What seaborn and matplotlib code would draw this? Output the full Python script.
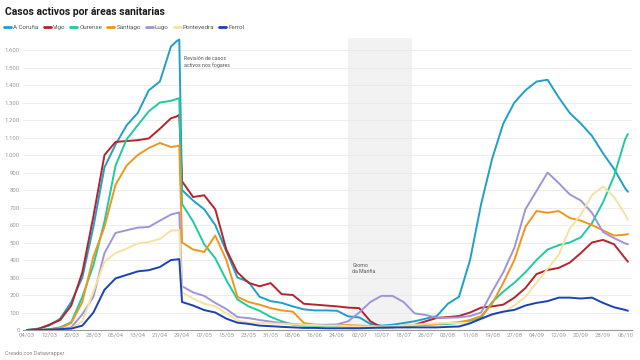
import pandas as pd
import matplotlib.pyplot as plt
import matplotlib.dates as mdates
from matplotlib.lines import Line2D
import seaborn as sns

# days counted from 04/03/2020
days = [0, 4, 8, 12, 16, 20, 24, 28, 32, 36, 40, 44, 48, 52,
        54, 55, 56,
        60, 64, 68, 72, 76, 80, 84, 88, 92, 96,
        100, 104, 108, 112, 116, 120, 124, 128, 132, 136,
        140, 144, 148, 152, 156, 160, 164, 168, 172, 176,
        180, 184, 188, 192, 196, 200, 204, 208, 212, 216,
        217]

a_coruna = [0, 8, 25, 65, 160, 300, 590, 930, 1060, 1170, 1240, 1370, 1420, 1620,
            1650, 1660, 800,
            740, 690, 600, 450, 300, 275, 190, 165, 155, 135,
            118, 112, 112, 110, 78, 72, 35, 25, 30, 40,
            50, 65, 80, 150, 190, 400, 720, 980, 1180, 1300,
            1370, 1420, 1430, 1330, 1240, 1180, 1110, 1010, 920, 810,
            790]
vigo = [0, 5, 30, 57, 140, 330, 650, 1000, 1075, 1080, 1085, 1095, 1150, 1210,
        1220, 1230, 850,
        760, 770, 690, 460, 330, 270, 250, 268, 205, 200,
        150, 145, 140, 135, 128, 125, 50, 15, 15, 20,
        30, 50, 69, 74, 80, 100, 128, 135, 145, 185,
        240, 320, 343, 355, 385, 440, 500, 515, 490, 410,
        390]
ourense = [0, 0, 5, 15, 45, 190, 370, 620, 940, 1090, 1170, 1250, 1300, 1310,
           1320, 1325, 720,
           620, 490, 410, 285, 175, 135, 110, 75, 50, 30,
           25, 25, 22, 22, 20, 18, 15, 15, 18, 25,
           28, 30, 32, 35, 40, 50, 70, 160, 220, 270,
           330, 400, 460, 485, 500, 530, 610, 730, 880, 1090,
           1120]
santiago = [0, 0, 3, 10, 40, 160, 420, 590, 830, 940, 1000, 1040, 1069, 1046,
            1050, 1055, 500,
            460, 446, 540, 400, 190, 160, 145, 125, 112, 105,
            40, 30, 28, 28, 28, 25, 22, 18, 18, 20,
            25, 30, 35, 40, 45, 57, 80, 150, 270, 400,
            590, 680, 670, 680, 640, 625, 600, 570, 540, 545,
            548]
lugo = [0, 0, 0, 3, 15, 90, 190, 440, 555, 570, 585, 589, 625, 660,
        668, 672, 250,
        215, 195, 155, 120, 74, 68, 57, 48, 40, 35,
        30, 30, 30, 32, 50, 100, 160, 195, 195, 160,
        95, 86, 70, 70, 72, 80, 100, 220, 330, 470,
        690, 795, 900, 840, 775, 740, 670, 560, 525, 495,
        490]
pontevedra = [0, 0, 0, 2, 8, 50, 220, 390, 440, 465, 495, 503, 520, 568,
              570, 572, 215,
              180, 150, 135, 95, 55, 42, 40, 38, 35, 32,
              30, 28, 25, 25, 22, 20, 20, 20, 22, 25,
              30, 35, 38, 40, 40, 42, 60, 85, 100, 140,
              190, 270, 350, 430, 580, 660, 770, 820, 760, 660,
              630]
ferrol = [0, 0, 2, 5, 8, 25, 100, 230, 295, 315, 335, 342, 360, 400,
          403, 405, 160,
          140, 114, 100, 65, 42, 35, 25, 22, 18, 15,
          12, 12, 10, 10, 10, 10, 12, 14, 15, 15,
          15, 15, 15, 18, 20, 38, 65, 90, 105, 115,
          140, 155, 165, 185, 185, 180, 185, 155, 130, 115,
          110]

areas = ["A Coruña", "Vigo", "Ourense", "Santiago", "Lugo", "Pontevedra", "Ferrol"]
colors = ["#1f9fc9", "#b3242c", "#1fcaa0", "#f0961c", "#a094d8", "#f7e1a1", "#1a42b4"]
series = [a_coruna, vigo, ourense, santiago, lugo, pontevedra, ferrol]

start = pd.Timestamp("2020-03-04")
dates = [start + pd.Timedelta(days=d) for d in days]
frames = []
for name, vals in zip(areas, series):
    frames.append(pd.DataFrame({"fecha": dates, "casos": vals, "area": name}))
df = pd.concat(frames, ignore_index=True)

sns.set_theme(style="white")
plt.rcParams['font.family'] = ['Roboto', 'DejaVu Sans']

fig = plt.figure(figsize=(6.4, 3.6), dpi=100)
ax = fig.add_axes([0.0356, 0.0833, 0.952, 0.8117])

# Gromo da Mariña period
ax.axvspan(pd.Timestamp("2020-06-28"), pd.Timestamp("2020-07-21"), color="#f2f2f2", zorder=0, lw=0)

sns.lineplot(data=df, x="fecha", y="casos", hue="area", hue_order=areas,
             palette=dict(zip(areas, colors)), linewidth=1.4, ax=ax, legend=False)

ax.set_xlim(start - pd.Timedelta(days=1.5), start + pd.Timedelta(days=218.5))
ax.set_ylim(0, 1670)
yt = list(range(0, 1601, 100))
ax.set_yticks(yt)
ax.set_yticklabels([f"{v:,}".replace(",", ".") for v in yt])
xt = pd.date_range(start, periods=28, freq="8D")
ax.set_xticks(xt)
ax.xaxis.set_major_formatter(mdates.DateFormatter("%d/%m"))
ax.tick_params(axis="both", length=0, labelsize=4.3, colors="#9a9a9a", pad=2)
ax.grid(axis="y", color="#e9e9e9", lw=0.6)
ax.set_axisbelow(True)
for s in ["top", "right", "left"]:
    ax.spines[s].set_visible(False)
ax.spines["bottom"].set_color("#999999")
ax.spines["bottom"].set_linewidth(0.8)
ax.set_xlabel("")
ax.set_ylabel("")

ax.text(start + pd.Timedelta(days=56.8), 1565, "Revisión de casos\nactivos nos fogares",
        fontsize=3.8, color="#555555", va="top", ha="left", linespacing=1.3)
ax.text(start + pd.Timedelta(days=117.5), 385, "Gromo\nda Mariña",
        fontsize=3.8, color="#555555", va="top", ha="left", linespacing=1.3)

fig.text(0.008, 0.967, "Casos activos por áreas sanitarias", fontsize=7.5, weight="bold",
         color="#1a1a1a", va="center", ha="left")
handles = [Line2D([0], [0], color=c, lw=2) for c in colors]
fig.legend(handles, areas, loc="center left", bbox_to_anchor=(0.003, 0.925), ncol=7,
           frameon=False, fontsize=4.5, handlelength=1.1, handletextpad=0.35,
           columnspacing=0.8, labelcolor="#555555", borderaxespad=0)
fig.text(0.008, 0.019, "Creado con Datawrapper", fontsize=3.9, color="#888888",
         va="center", ha="left")

fig.savefig("out.png", dpi=100)
